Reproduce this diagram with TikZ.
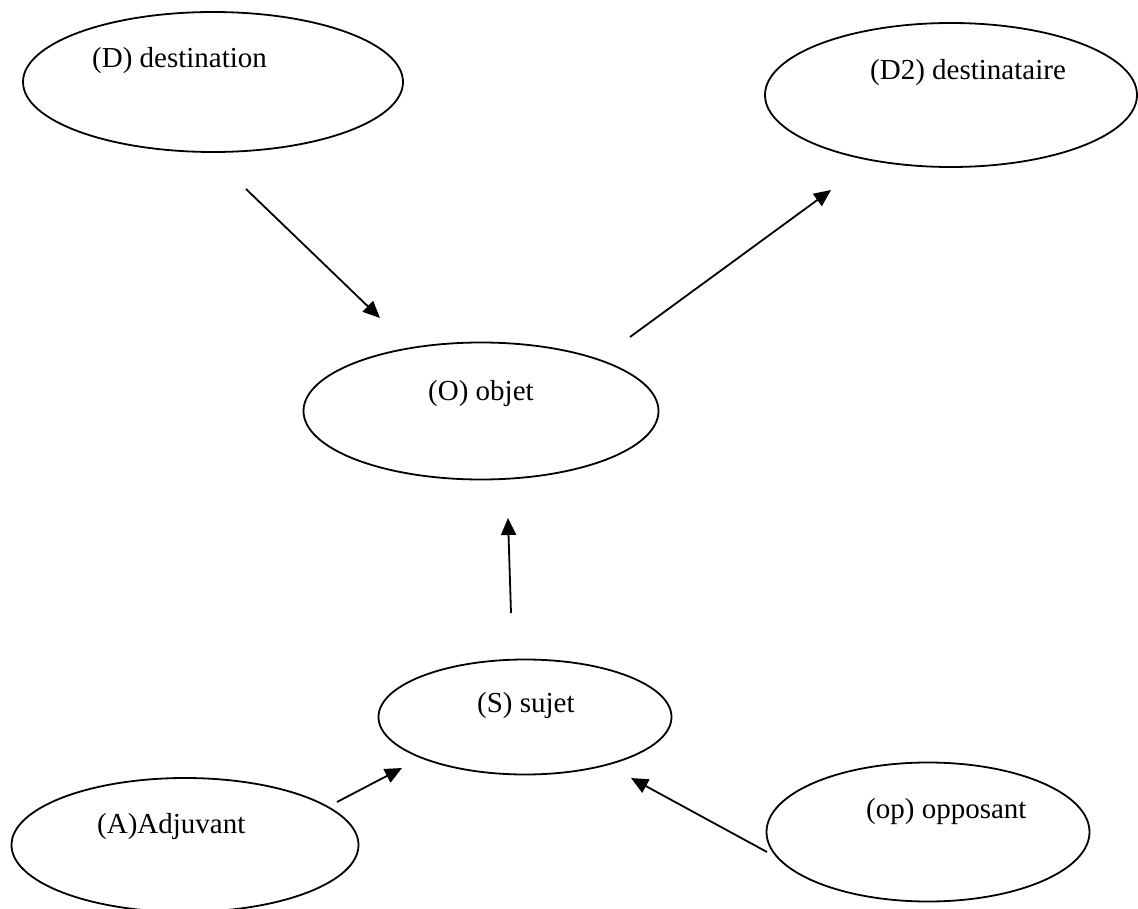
\documentclass[tikz,border=0pt]{standalone}
\usepackage{fontspec}
\setmainfont{Liberation Serif}
\usetikzlibrary{shapes.geometric,arrows.meta}
\begin{document}
\begin{tikzpicture}[x=1pt,y=-1pt,
  oval/.style={ellipse,draw,line width=1.8pt,inner sep=0pt},
  lbl/.style={anchor=base west,inner sep=0pt,font=\fontsize{29}{31}\selectfont},
  arr/.style={line width=1.8pt,-{Triangle[length=17pt,width=15pt]}}]
\useasboundingbox (0,0) rectangle (1138,909);
\node[oval,minimum width=380pt,minimum height=140pt] (D) at (213,82) {};
\node[oval,minimum width=372pt,minimum height=144pt] (D2) at (951,95) {};
\node[oval,minimum width=355pt,minimum height=137pt] (O) at (481,411) {};
\node[oval,minimum width=293pt,minimum height=115pt] (S) at (525,717) {};
\node[oval,minimum width=347pt,minimum height=134pt] (A) at (185,845) {};
\node[oval,minimum width=323pt,minimum height=139pt] (op) at (928,832) {};
\node[lbl] (tD) at (92,68) {(D) destination};
\node[lbl] (tD2) at (870,80) {(D2) destinataire};
\node[lbl] (tO) at (428,400) {(O) objet};
\node[lbl] (tS) at (477,712) {(S) sujet};
\node[lbl] (tA) at (97,833) {(A)Adjuvant};
\node[lbl] (top) at (866,818) {(op) opposant};
\coordinate (a1s) at (246,189); \coordinate (a1e) at (380,318);
\coordinate (a2s) at (630,337); \coordinate (a2e) at (831,190);
\coordinate (a3s) at (511,613); \coordinate (a3e) at (508,518);
\coordinate (a4s) at (337,802); \coordinate (a4e) at (402,768);
\coordinate (a5s) at (767,852); \coordinate (a5e) at (631,778);
\draw[arr] (a1s) -- (a1e);
\draw[arr] (a2s) -- (a2e);
\draw[arr] (a3s) -- (a3e);
\draw[arr] (a4s) -- (a4e);
\draw[arr] (a5s) -- (a5e);
\end{tikzpicture}
\end{document}
